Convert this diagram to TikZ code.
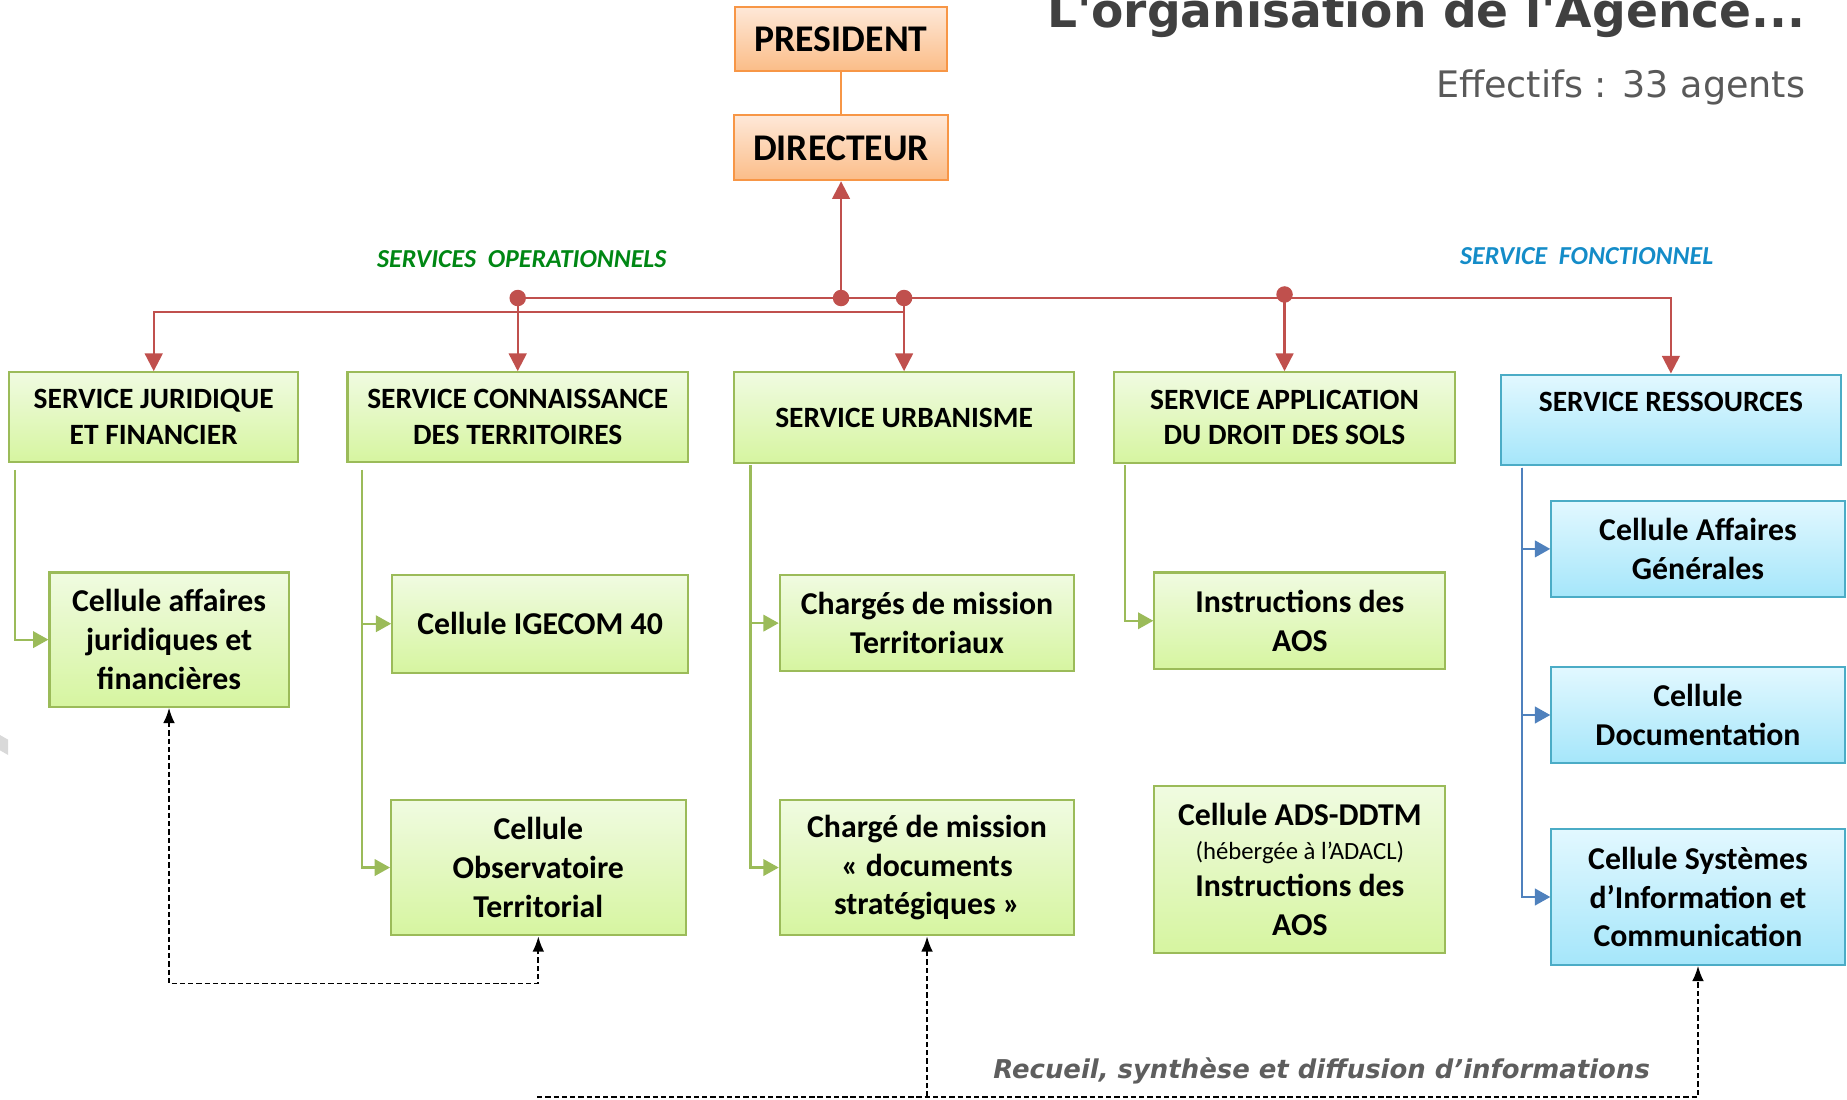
\documentclass[tikz,border=0pt]{standalone}
\usepackage{fontspec}
\setmainfont{Carlito}
\newfontfamily\verdfont{DejaVu Sans}
\usetikzlibrary{arrows.meta}
\definecolor{redline}{HTML}{C0504D}
\definecolor{boxgreen}{HTML}{9BBB59}
\definecolor{greentop}{HTML}{F0FBE1}
\definecolor{greenbot}{HTML}{D6F5A0}
\definecolor{boxblue}{HTML}{4BACC6}
\definecolor{bluetop}{HTML}{E2F8FF}
\definecolor{bluebot}{HTML}{A5E6FA}
\definecolor{lineblue}{HTML}{4F81BD}
\definecolor{boxorange}{HTML}{F79646}
\definecolor{orangetop}{HTML}{FEE8D8}
\definecolor{orangebot}{HTML}{FBBD88}
\definecolor{opgreen}{RGB}{0,135,20}
\definecolor{fnblue}{RGB}{20,140,200}
\definecolor{titlegray}{HTML}{404040}
\definecolor{subgray}{HTML}{595959}
\definecolor{notegray}{HTML}{5E5E5E}
\begin{document}
\begin{tikzpicture}
        [x=1pt, y=-1pt,
        box/.style={draw, line width=1.8pt, inner sep=0pt, align=center, font=\fontsize{27}{33}\selectfont\bfseries},
        greenbox/.style={box, draw=boxgreen, top color=greentop, bottom color=greenbot},
        bluebox/.style={box, draw=boxblue, top color=bluetop, bottom color=bluebot},
        orangebox/.style={box, draw=boxorange, top color=orangetop, bottom color=orangebot, font=\fontsize{32}{36}\selectfont\bfseries},
        svctext/.style={font=\fontsize{25}{30}\selectfont\bfseries},
        headline/.style={font=\fontsize{22}{26}\selectfont\bfseries\itshape},
        redarrow/.style={draw=redline, line width=2pt, -{Triangle[length=15pt,width=15pt]}},
        greenarrow/.style={draw=boxgreen, line width=1.8pt, -{Triangle[length=13pt,width=14pt]}},
        bluearrow/.style={draw=lineblue, line width=2pt, -{Triangle[length=13pt,width=14pt]}},
        dashline/.style={draw=black, line width=1.6pt, dash pattern=on 4.5pt off 2.5pt}]
        \useasboundingbox (0,0) rectangle (1568,933);
        \fill[gray!30] (0,624) -- (7,628) -- (7,641) -- (0,637) -- cycle;

        \node[anchor=base east, font=\verdfont\fontsize{40}{44}\selectfont\bfseries, text=titlegray] (T) at (1536,23) {L'organisation de l'Agence...};
        \node[anchor=base east, font=\verdfont\fontsize{31}{36}\selectfont, text=subgray] (E) at (1536,83) {Effectifs : 33 agents};

        \node[orangebox, minimum width=180pt, minimum height=54pt] (P) at (714,33) {PRESIDENT};
        \node[orangebox, minimum width=182pt, minimum height=55pt] (D) at (714,125.5) {DIRECTEUR};

        \node[headline, text=opgreen] (OP) at (443,220) {SERVICES~~OPERATIONNELS};
        \node[headline, text=fnblue] (FN) at (1347,217) {SERVICE~~FONCTIONNEL};

        \node[greenbox, svctext, minimum width=245pt, minimum height=76pt] (SJF) at (130.5,354) {SERVICE JURIDIQUE\\ET FINANCIER};
        \node[greenbox, svctext, minimum width=289pt, minimum height=76pt] (SCT) at (439.5,354) {SERVICE CONNAISSANCE\\DES TERRITOIRES};
        \node[greenbox, svctext, minimum width=289pt, minimum height=77pt] (SU) at (767.5,354.5) {SERVICE URBANISME};
        \node[greenbox, svctext, minimum width=289pt, minimum height=77pt] (SADS) at (1090.5,354.5) {SERVICE APPLICATION\\DU DROIT DES SOLS};
        \node[bluebox, svctext, minimum width=289pt, minimum height=77pt] (SR) at (1418.5,356.5) {SERVICE RESSOURCES\\~};

        \node[greenbox, minimum width=203pt, minimum height=114pt] (CAJ) at (143.5,543) {Cellule affaires\\juridiques et\\financières};
        \node[greenbox, minimum width=251pt, minimum height=83pt] (CIG) at (458.5,529.5) {Cellule IGECOM 40};
        \node[greenbox, minimum width=250pt, minimum height=115pt] (COT) at (457,736.5) {Cellule\\Observatoire\\Territorial};
        \node[greenbox, minimum width=250pt, minimum height=82pt] (CMT) at (787,529) {Chargés de mission\\Territoriaux};
        \node[greenbox, minimum width=250pt, minimum height=115pt] (CMD) at (787,736.5) {Chargé de mission\\« documents\\stratégiques »};
        \node[greenbox, minimum width=247pt, minimum height=82pt] (IAOS) at (1103.5,527) {Instructions des\\AOS};
        \node[greenbox, minimum width=247pt, minimum height=142pt] (CADS) at (1103.5,738) {Cellule ADS-DDTM\\[-4pt]{\mdseries\fontsize{21}{24}\selectfont(hébergée à l’ADACL)}\\[-2pt]Instructions des\\AOS};
        \node[bluebox, minimum width=249pt, minimum height=82pt] (CAG) at (1441.5,466) {Cellule Affaires\\Générales};
        \node[bluebox, minimum width=249pt, minimum height=82pt] (CDOC) at (1441.5,607) {Cellule\\Documentation};
        \node[bluebox, minimum width=249pt, minimum height=115pt] (CSIC) at (1441.5,761.5) {Cellule Systèmes\\d’Information et\\Communication};

        \node[anchor=base, font=\verdfont\fontsize{22}{26}\selectfont\bfseries\itshape, text=notegray] (R) at (1122,916) {Recueil, synthèse et diffusion d’informations};

        \coordinate (j1) at (SCT.north |- 0,253);
        \coordinate (j2) at (D.south |- 0,253);
        \coordinate (j3) at (SU.north |- 0,253);
        \coordinate (j4) at (SADS.north |- 0,253);
        \coordinate (bl) at (456,931);

        \draw[draw=boxorange, line width=1.6pt] (P) -- (D);

        \draw[redarrow] (j2) -- (D.south);
        \draw[redarrow] (j1) -- (j4) -| (SR.north);
        \draw[redarrow] (j1) -- (SCT.north);
        \draw[redarrow] (j3) -- (SU.north);
        \draw[redarrow] (j4) -- (SADS.north);
        \draw[redarrow] (SU.north |- 0,265) -| (SJF.north);
        \fill[redline] (j1) circle (7pt) (j2) circle (7pt) (j3) circle (7pt) ([yshift=3pt]j4) circle (7pt);

        \draw[greenarrow] ([xshift=6pt,yshift=-6pt]SJF.south west) |- (CAJ.west);
        \draw[greenarrow] ([xshift=13pt,yshift=-6pt]SCT.south west) |- (CIG.west);
        \draw[greenarrow] ([xshift=13pt,yshift=-6pt]SCT.south west) |- (COT.west);
        \draw[greenarrow] ([xshift=15pt,yshift=-1pt]SU.south west) |- (CMT.west);
        \draw[greenarrow] ([xshift=15pt,yshift=-1pt]SU.south west) |- (CMD.west);
        \draw[greenarrow] ([xshift=10pt,yshift=-1pt]SADS.south west) |- (IAOS.west);
        \draw[bluearrow] ([xshift=19pt,yshift=-1pt]SR.south west) |- (CAG.west);
        \draw[bluearrow] ([xshift=19pt,yshift=-1pt]SR.south west) |- (CDOC.west);
        \draw[bluearrow] ([xshift=19pt,yshift=-1pt]SR.south west) |- (CSIC.west);

        \draw[dashline, {Latex[length=13pt,width=10pt]}-{Latex[length=13pt,width=10pt]}] (CAJ.south) -- ++(0,234) -| (COT.south);
        \draw[dashline, -{Latex[length=13pt,width=10pt]}] (CMD.south |- bl) -- (CMD.south);
        \draw[dashline, -{Latex[length=13pt,width=10pt]}] (bl) -| (CSIC.south);
    \end{tikzpicture}
\end{document}
